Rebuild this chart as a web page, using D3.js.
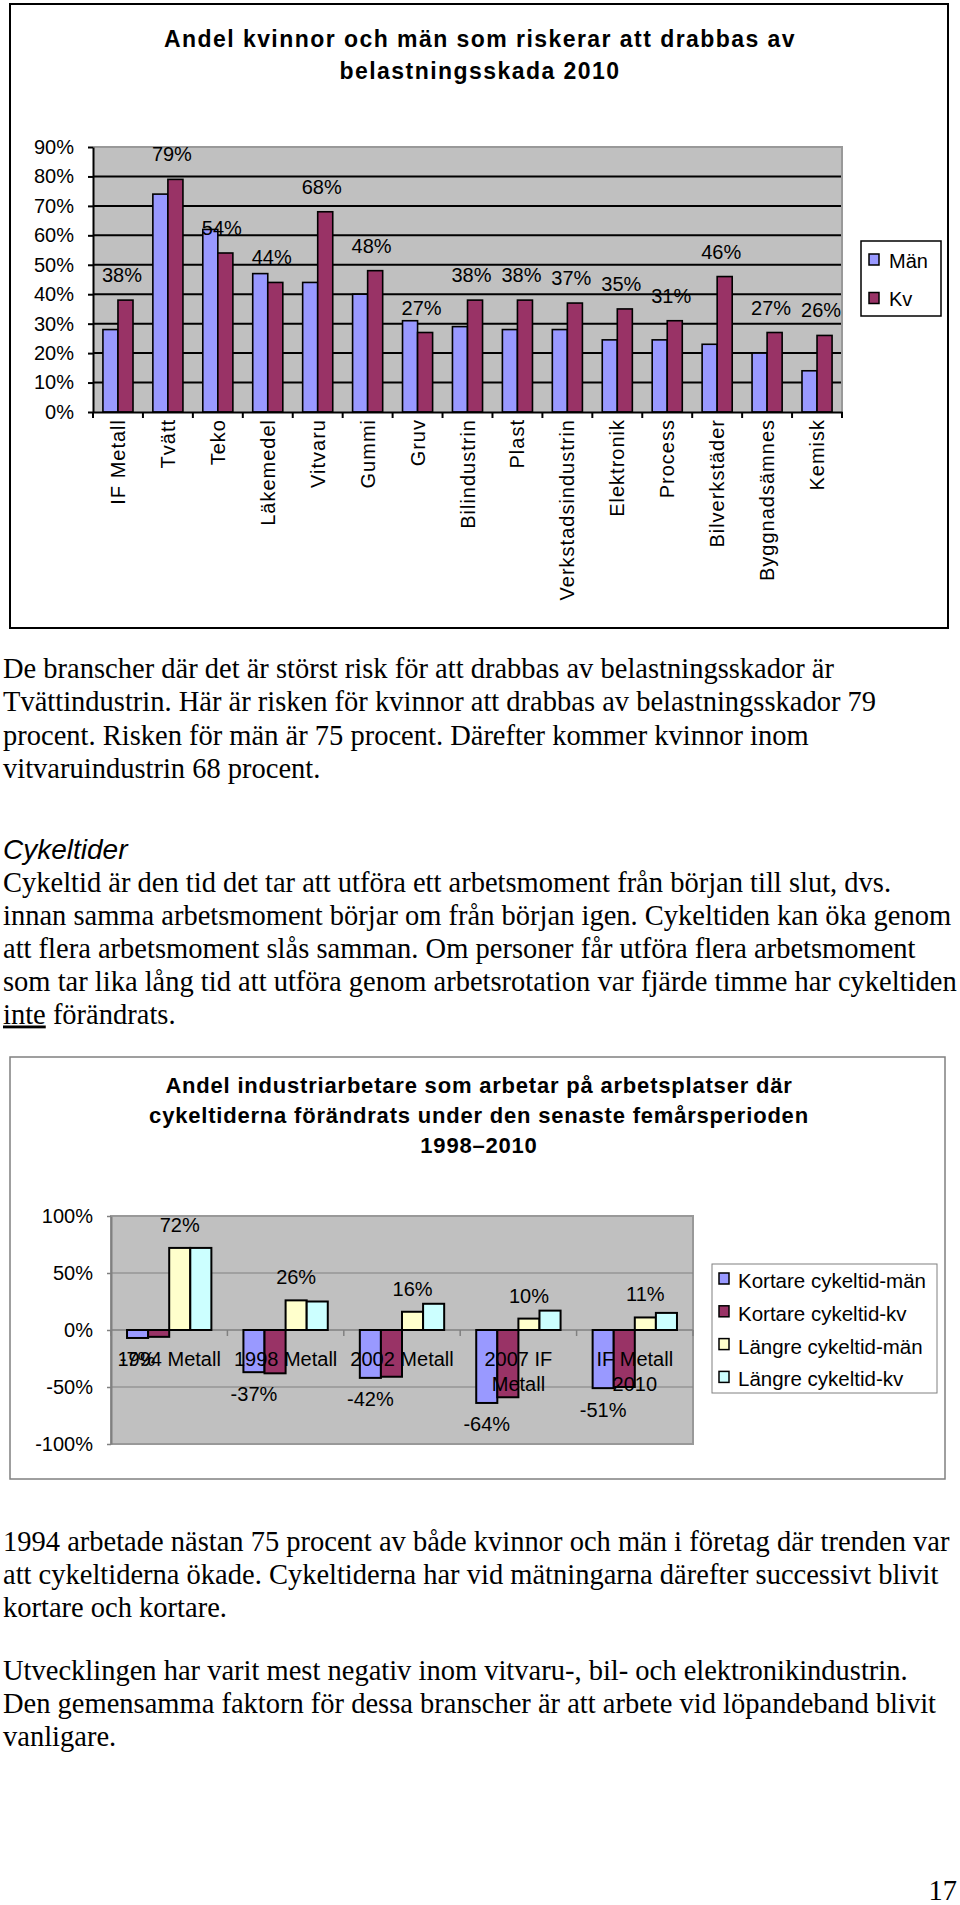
<!DOCTYPE html>
<html>
<head>
<meta charset="utf-8">
<script src="https://cdn.jsdelivr.net/npm/d3@7"></script>
<style>
  body { margin: 0; background: #fff; }
  svg text { font-family: "Liberation Sans", Arial, sans-serif; fill: #000; }
  svg text.serif { font-family: "Liberation Serif", "Times New Roman", serif; }
</style>
</head>
<body>
<svg id="page" width="960" height="1905"></svg>
<script>
// chart 1: risk by branch
var cats1 = ['IF Metall', 'Tvätt', 'Teko', 'Läkemedel', 'Vitvaru', 'Gummi', 'Gruv', 'Bilindustrin',
  'Plast', 'Verkstadsindustrin', 'Elektronik', 'Process', 'Bilverkstäder', 'Byggnadsämnes', 'Kemisk'];
var man1 = [28, 74, 62, 47, 44, 40, 31, 29, 28, 28, 24.5, 24.5, 23, 20, 14];
var kv1 = [38, 79, 54, 44, 68, 48, 27, 38, 38, 37, 35, 31, 46, 27, 26];
var series1 = ['Män', 'Kv'];
var yTicks1 = [0, 10, 20, 30, 40, 50, 60, 70, 80, 90];
var title1 = ['Andel kvinnor och män som riskerar att drabbas av', 'belastningsskada 2010'];

// chart 2: cycle times
var cats2 = [['1994 Metall'], ['1998 Metall'], ['2002 Metall'], ['2007 IF', 'Metall'], ['IF Metall', '2010']];
var kortMan = [-7, -37, -42, -64, -51];
var kortKv = [-6, -38, -41, -59, -50];
var langMan = [72, 26, 16, 10, 11];
var langKv = [72, 25, 23, 17, 15];
var series2 = ['Kortare cykeltid-män', 'Kortare cykeltid-kv', 'Längre cykeltid-män', 'Längre cykeltid-kv'];
var yTicks2 = [-100, -50, 0, 50, 100];
var title2 = ['Andel industriarbetare som arbetar på arbetsplatser där',
  'cykeltiderna förändrats under den senaste femårsperioden', '1998–2010'];

// body text
var para1 = ['De branscher där det är störst risk för att drabbas av belastningsskador är',
  'Tvättindustrin. Här är risken för kvinnor att drabbas av belastningsskador 79',
  'procent. Risken för män är 75 procent. Därefter kommer kvinnor inom',
  'vitvaruindustrin 68 procent.'];
var heading2 = 'Cykeltider';
var para2 = ['Cykeltid är den tid det tar att utföra ett arbetsmoment från början till slut, dvs.',
  'innan samma arbetsmoment börjar om från början igen. Cykeltiden kan öka genom',
  'att flera arbetsmoment slås samman. Om personer får utföra flera arbetsmoment',
  'som tar lika lång tid att utföra genom arbetsrotation var fjärde timme har cykeltiden'];
var para2last = ['inte', ' förändrats.'];
var para3 = ['1994 arbetade nästan 75 procent av både kvinnor och män i företag där trenden var',
  'att cykeltiderna ökade. Cykeltiderna har vid mätningarna därefter successivt blivit',
  'kortare och kortare.'];
var para4 = ['Utvecklingen har varit mest negativ inom vitvaru-, bil- och elektronikindustrin.',
  'Den gemensamma faktorn för dessa branscher är att arbete vid löpandeband blivit',
  'vanligare.'];
var pageNo = '17';

var svg = d3.select('#page');

// ---------- CHART 1 ----------
svg.append('rect')
  .attr('x', 10).attr('y', 4).attr('width', 938).attr('height', 624)
  .attr('fill', '#fff').attr('stroke', '#000').attr('stroke-width', 2);

svg.selectAll('.t1')
  .data(title1)
  .enter()
  .append('text')
  .attr('x', 480)
  .attr('y', function(d, i) { return 47 + i * 31.5; })
  .attr('text-anchor', 'middle')
  .attr('font-size', '23px')
  .attr('font-weight', 'bold')
  .attr('letter-spacing', '1.45px')
  .text(function(d) { return d; });

var p1 = { left: 93, right: 842, top: 147, bottom: 412 };
var x1 = d3.scaleBand().domain(cats1).range([p1.left, p1.right]);
var xs1 = d3.scaleBand().domain(series1).range([0, x1.bandwidth()]).paddingOuter(0.66);
var y1 = d3.scaleLinear().domain([0, 90]).range([p1.bottom, p1.top]);
var col1 = { 'Män': '#9999ff', 'Kv': '#993366' };

svg.append('rect')
  .attr('x', p1.left).attr('y', p1.top)
  .attr('width', p1.right - p1.left).attr('height', p1.bottom - p1.top)
  .attr('fill', '#c0c0c0');

svg.selectAll('.grid1')
  .data(yTicks1.filter(function(d) { return d > 0 && d < 90; }))
  .enter()
  .append('line')
  .attr('x1', p1.left).attr('x2', p1.right)
  .attr('y1', function(d) { return y1(d); })
  .attr('y2', function(d) { return y1(d); })
  .attr('stroke', '#000').attr('stroke-width', 2);

// plot border top/right
svg.append('path')
  .attr('d', 'M' + p1.left + ',' + y1(90) + 'H' + p1.right + 'V' + p1.bottom)
  .attr('fill', 'none').attr('stroke', '#999').attr('stroke-width', 2);

cats1.forEach(function(c, i) {
  var vals = { 'Män': man1[i], 'Kv': kv1[i] };
  series1.forEach(function(s) {
    svg.append('rect')
      .attr('x', x1(c) + xs1(s))
      .attr('y', y1(vals[s]))
      .attr('width', xs1.bandwidth())
      .attr('height', y1(0) - y1(vals[s]))
      .attr('fill', col1[s])
      .attr('stroke', '#000')
      .attr('stroke-width', 1.6);
  });
});

var yAxis1 = d3.axisLeft(y1)
  .tickValues(yTicks1)
  .tickSize(5)
  .tickSizeOuter(0)
  .tickPadding(14)
  .tickFormat(function(n) { return n + '%'; });
var gy1 = svg.append('g').attr('transform', 'translate(' + p1.left + ',0)').call(yAxis1);
gy1.select('.domain').attr('stroke', '#000').attr('stroke-width', 2);
gy1.selectAll('line').attr('stroke', '#000').attr('stroke-width', 2);
gy1.selectAll('text').attr('font-size', '20px').attr('font-family', null);

var xAxis1 = d3.axisBottom(x1).tickSize(0).tickSizeOuter(0);
var gx1 = svg.append('g').attr('transform', 'translate(0,' + p1.bottom + ')').call(xAxis1);
gx1.select('.domain').attr('stroke', '#000').attr('stroke-width', 2);
gx1.selectAll('text')
  .attr('font-size', '20px')
  .attr('font-family', null)
  .attr('letter-spacing', '1px')
  .attr('transform', 'rotate(-90)')
  .attr('text-anchor', 'end')
  .attr('x', -7)
  .attr('y', 0)
  .attr('dy', '0.35em');
gx1.selectAll('.bound')
  .data(cats1.map(function(c) { return x1(c); }).concat([p1.right]))
  .enter()
  .append('line')
  .attr('x1', function(d) { return d; }).attr('x2', function(d) { return d; })
  .attr('y1', 0).attr('y2', 6)
  .attr('stroke', '#000').attr('stroke-width', 2);

svg.selectAll('.lab1')
  .data(kv1)
  .enter()
  .append('text')
  .attr('x', function(d, i) { return x1(cats1[i]) + x1.bandwidth() / 2 + 4; })
  .attr('y', function(d) { return y1(d) - 18; })
  .attr('text-anchor', 'middle')
  .attr('font-size', '20px')
  .text(function(d) { return d + '%'; });

var leg1 = svg.append('g');
leg1.append('rect')
  .attr('x', 861).attr('y', 241).attr('width', 80).attr('height', 75)
  .attr('fill', '#fff').attr('stroke', '#000').attr('stroke-width', 1.5);
series1.forEach(function(s, i) {
  leg1.append('rect')
    .attr('x', 869).attr('y', 254 + i * 38.5).attr('width', 10).attr('height', 11)
    .attr('fill', col1[s]).attr('stroke', '#000').attr('stroke-width', 1.5);
  leg1.append('text')
    .attr('x', 889).attr('y', 268 + i * 37.5)
    .attr('font-size', '20px')
    .text(s);
});

// ---------- TEXT ----------
function textBlock(lines, x, y0, lh) {
  svg.selectAll(null)
    .data(lines)
    .enter()
    .append('text')
    .attr('class', 'serif')
    .attr('x', x)
    .attr('y', function(d, i) { return y0 + i * lh; })
    .attr('font-size', '28.5px')
    .text(function(d) { return d; });
}
textBlock(para1, 3, 678, 33.4);

svg.append('text')
  .attr('x', 3).attr('y', 859)
  .attr('font-size', '28px')
  .attr('font-style', 'italic')
  .text(heading2);

textBlock(para2, 3, 891.5, 33);
var last2 = svg.append('text').attr('class', 'serif')
  .attr('x', 3).attr('y', 891.5 + 4 * 33).attr('font-size', '28.5px');
last2.append('tspan').attr('text-decoration', 'underline').text(para2last[0]);
last2.append('tspan').text(para2last[1]);

textBlock(para3, 3, 1551, 33);
textBlock(para4, 3, 1680, 33);

svg.append('text')
  .attr('class', 'serif')
  .attr('x', 957).attr('y', 1900)
  .attr('text-anchor', 'end')
  .attr('font-size', '28.5px')
  .text(pageNo);

// ---------- CHART 2 ----------
svg.append('rect')
  .attr('x', 10).attr('y', 1057).attr('width', 935).attr('height', 422)
  .attr('fill', '#fff').attr('stroke', '#808080').attr('stroke-width', 1.5);

svg.selectAll('.t2')
  .data(title2)
  .enter()
  .append('text')
  .attr('x', 479)
  .attr('y', function(d, i) { return 1093 + i * 30; })
  .attr('text-anchor', 'middle')
  .attr('font-size', '22px')
  .attr('font-weight', 'bold')
  .attr('letter-spacing', '0.8px')
  .text(function(d) { return d; });

var p2 = { left: 111, right: 693, top: 1216, bottom: 1444 };
var catNames2 = cats2.map(function(d) { return d.join(' '); });
var x2 = d3.scaleBand().domain(catNames2).range([p2.left, p2.right]);
var xs2 = d3.scaleBand().domain(series2).range([0, x2.bandwidth()]).paddingOuter(0.76);
var y2 = d3.scaleLinear().domain([-100, 100]).range([p2.bottom, p2.top]);
var col2 = ['#9999ff', '#993366', '#ffffcc', '#ccffff'];
var vals2 = [kortMan, kortKv, langMan, langKv];

svg.append('rect')
  .attr('x', p2.left).attr('y', p2.top)
  .attr('width', p2.right - p2.left).attr('height', p2.bottom - p2.top)
  .attr('fill', '#c0c0c0')
  .attr('stroke', '#999').attr('stroke-width', 2);

svg.selectAll('.grid2')
  .data([-50, 50])
  .enter()
  .append('line')
  .attr('x1', p2.left).attr('x2', p2.right)
  .attr('y1', function(d) { return y2(d); })
  .attr('y2', function(d) { return y2(d); })
  .attr('stroke', '#808080').attr('stroke-width', 1);

var gx2 = svg.append('g').attr('transform', 'translate(0,' + y2(0) + ')');
gx2.append('line')
  .attr('x1', p2.left).attr('x2', p2.right)
  .attr('stroke', '#808080').attr('stroke-width', 1.5);
gx2.selectAll('.bound')
  .data(catNames2.map(function(c) { return x2(c); }).concat([p2.right]))
  .enter()
  .append('line')
  .attr('x1', function(d) { return d; }).attr('x2', function(d) { return d; })
  .attr('y1', 0).attr('y2', 6)
  .attr('stroke', '#808080').attr('stroke-width', 1.5);

catNames2.forEach(function(c, i) {
  series2.forEach(function(s, k) {
    var v = vals2[k][i];
    svg.append('rect')
      .attr('x', x2(c) + xs2(s))
      .attr('y', Math.min(y2(v), y2(0)))
      .attr('width', xs2.bandwidth())
      .attr('height', Math.abs(y2(v) - y2(0)))
      .attr('fill', col2[k])
      .attr('stroke', '#000')
      .attr('stroke-width', 2);
  });
});

var yAxis2 = d3.axisLeft(y2)
  .tickValues(yTicks2)
  .tickSize(4)
  .tickSizeOuter(0)
  .tickPadding(14)
  .tickFormat(function(n) { return n + '%'; });
var gy2 = svg.append('g').attr('transform', 'translate(' + p2.left + ',0)').call(yAxis2);
gy2.select('.domain').attr('stroke', '#808080').attr('stroke-width', 2);
gy2.selectAll('line').attr('stroke', '#808080').attr('stroke-width', 1.5);
gy2.selectAll('text').attr('font-size', '20px').attr('font-family', null);

// category labels over the bars
cats2.forEach(function(lines, i) {
  var t = svg.append('text')
    .attr('x', x2(catNames2[i]) + x2.bandwidth() / 2)
    .attr('y', y2(0) + 36)
    .attr('text-anchor', 'middle')
    .attr('font-size', '20px');
  lines.forEach(function(l, j) {
    t.append('tspan')
      .attr('x', x2(catNames2[i]) + x2.bandwidth() / 2)
      .attr('dy', j === 0 ? 0 : 25)
      .text(l);
  });
});

function barCenter(i, s) {
  return x2(catNames2[i]) + xs2(s) + xs2.bandwidth() / 2;
}
svg.selectAll('.labK')
  .data(kortMan)
  .enter()
  .append('text')
  .attr('x', function(d, i) { return barCenter(i, series2[0]); })
  .attr('y', function(d) { return y2(d) + 28.5; })
  .attr('text-anchor', 'middle')
  .attr('font-size', '20px')
  .text(function(d) { return d + '%'; });
svg.selectAll('.labL')
  .data(langMan)
  .enter()
  .append('text')
  .attr('x', function(d, i) { return barCenter(i, series2[2]); })
  .attr('y', function(d) { return y2(d) - 16; })
  .attr('text-anchor', 'middle')
  .attr('font-size', '20px')
  .text(function(d) { return d + '%'; });

var leg2 = svg.append('g');
leg2.append('rect')
  .attr('x', 712).attr('y', 1264).attr('width', 225).attr('height', 129)
  .attr('fill', '#fff').attr('stroke', '#808080').attr('stroke-width', 1);
series2.forEach(function(s, i) {
  leg2.append('rect')
    .attr('x', 719).attr('y', 1273 + i * 32.8).attr('width', 10).attr('height', 11)
    .attr('fill', col2[i]).attr('stroke', '#000').attr('stroke-width', 1.5);
  leg2.append('text')
    .attr('x', 738).attr('y', 1288 + i * 32.8)
    .attr('font-size', '20.5px')
    .text(s);
});
</script>
</body>
</html>
